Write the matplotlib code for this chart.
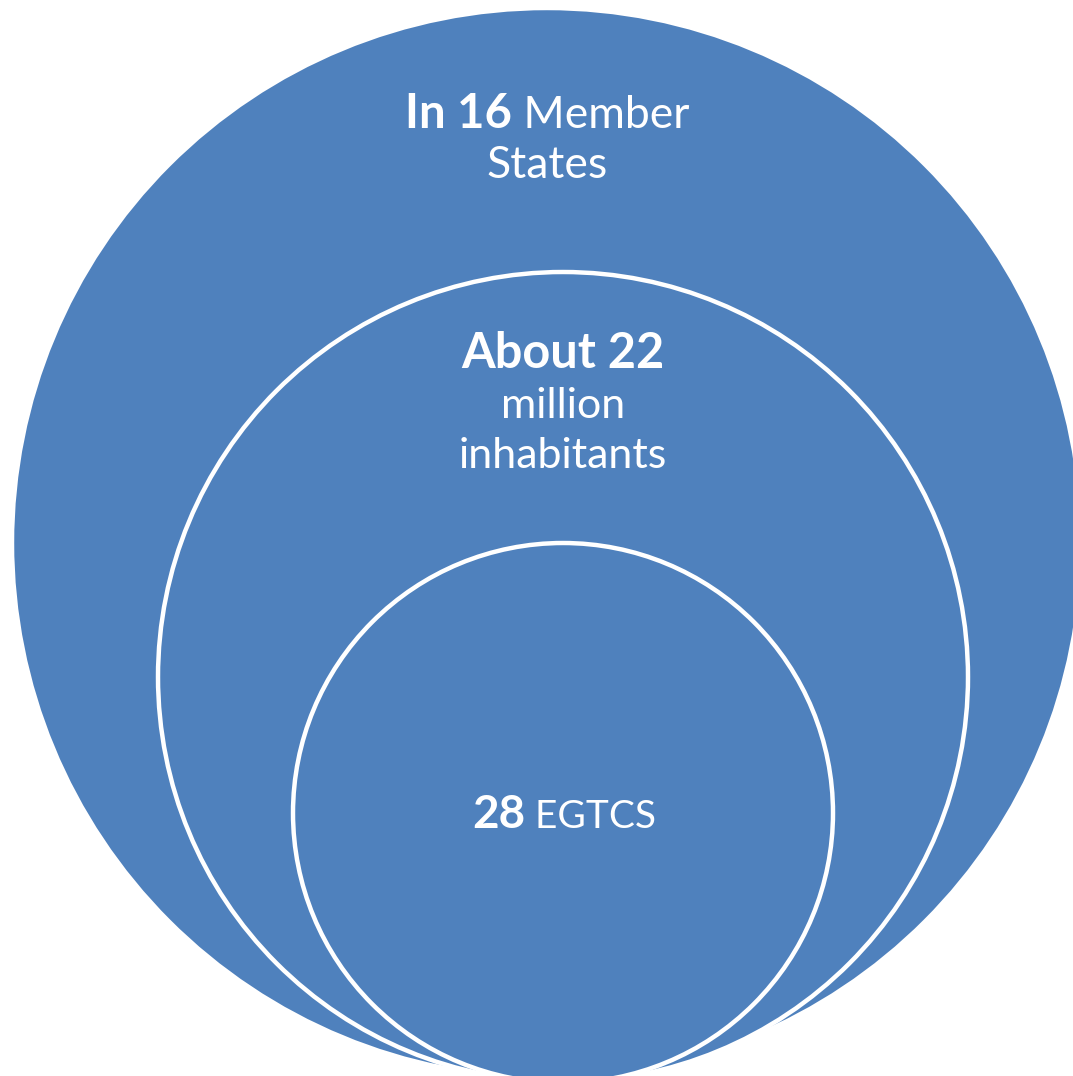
import matplotlib.pyplot as plt
from matplotlib.patches import Circle

# nested circles, outermost first (pixel units of the picture)
circle_cx = [547, 563, 563]
circle_cy = [543, 677, 813]
circle_r = [535, 405, 270]

# label lines per circle: (bold part, regular part)
label_lines = [
    [("In 16", "Member"), ("", "States")],
    [("About 22", ""), ("", "million"), ("", "inhabitants")],
    [("28", "EGTCS")],
]
label_cx = [547, 563, 564]
label_y0 = [128, 368, 828]
bold_size = [34, 35, 33]
reg_size = [32, 31, 28]

BLUE = "#4F81BD"
FONT = ["Lato", "DejaVu Sans"]
W, H = 1073, 1076

fig = plt.figure(figsize=(W / 100, H / 100), dpi=100)
ax = fig.add_axes([0, 0, 1, 1])
ax.set_xlim(0, W)
ax.set_ylim(H, 0)
ax.set_aspect("equal")
ax.axis("off")

for cx, cy, r in zip(circle_cx, circle_cy, circle_r):
    ax.add_patch(Circle((cx, cy), r, facecolor=BLUE, edgecolor="white", lw=3.2))

renderer = fig.canvas.get_renderer()


def width_px(t):
    return t.get_window_extent(renderer=renderer).width


line_gap = 50
for lines, cx, y0, bs, rs in zip(label_lines, label_cx, label_y0, bold_size, reg_size):
    for i, (bold, reg) in enumerate(lines):
        y = y0 + i * line_gap
        parts = []
        if bold:
            parts.append(ax.text(0, y, bold, fontsize=bs, fontweight="bold",
                                 color="white", family=FONT, va="baseline", ha="left"))
        if reg:
            txt = (" " + reg) if bold else reg
            parts.append(ax.text(0, y, txt, fontsize=rs, color="white",
                                 family=FONT, va="baseline", ha="left"))
        widths = [width_px(p) for p in parts]
        x = cx - sum(widths) / 2
        for p, w in zip(parts, widths):
            p.set_x(x)
            x += w

fig.savefig("out.png", dpi=100)
